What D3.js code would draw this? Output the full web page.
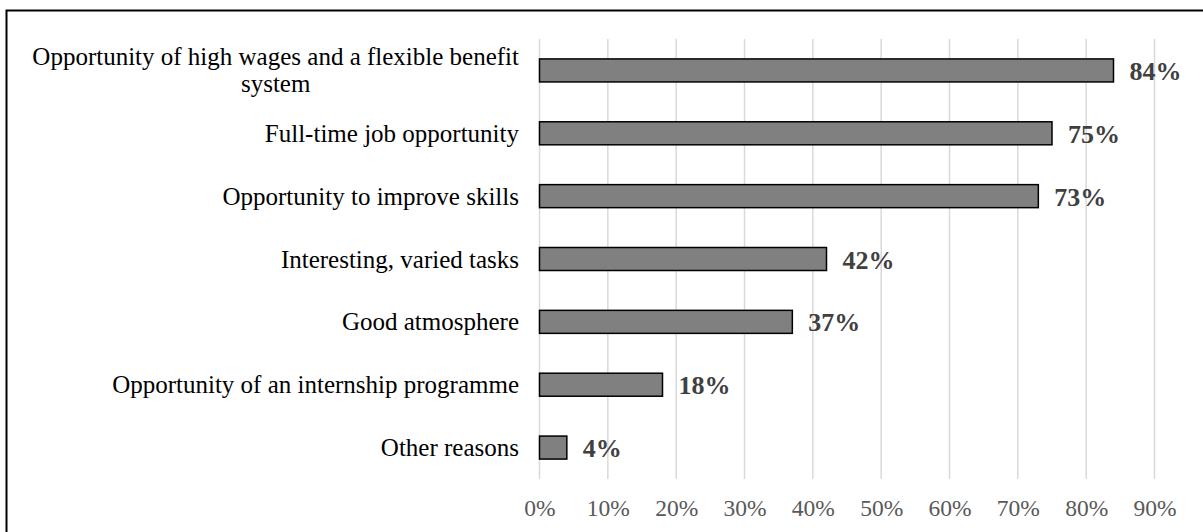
<!DOCTYPE html>
<html>
<head>
<meta charset="utf-8">
<script src="https://cdn.jsdelivr.net/npm/d3@7"></script>
<style>
  body { margin: 0; background: #fff; }
  text { font-family: "Liberation Serif", "Times New Roman", serif; }
</style>
</head>
<body>
<div id="chart"></div>
<script>
// Chart data
const categories = [
  "Opportunity of high wages and a flexible benefit|system",
  "Full-time job opportunity",
  "Opportunity to improve skills",
  "Interesting, varied tasks",
  "Good atmosphere",
  "Opportunity of an internship programme",
  "Other reasons"
];
const values = [0.84, 0.75, 0.73, 0.42, 0.37, 0.18, 0.04];
const tickValues = [0, 0.1, 0.2, 0.3, 0.4, 0.5, 0.6, 0.7, 0.8, 0.9];

const W = 1203, H = 532;
const plot = { left: 539.5, right: 1154.5, top: 39, bottom: 479 };

const svg = d3.select("#chart").append("svg")
  .attr("width", W)
  .attr("height", H);

// outer frame (runs off the bottom/right of the picture)
svg.append("rect")
  .attr("x", 6.5).attr("y", 10.5)
  .attr("width", 1300).attr("height", 600)
  .attr("fill", "none")
  .attr("stroke", "#000")
  .attr("stroke-width", 2);

const x = d3.scaleLinear()
  .domain([0, 0.9])
  .range([plot.left, plot.right]);

const y = d3.scaleBand()
  .domain(categories)
  .range([plot.top, plot.bottom])
  .paddingInner(0.634)
  .paddingOuter(0.317);

// gridlines
svg.append("g")
  .selectAll("line")
  .data(tickValues)
  .join("line")
  .attr("x1", d => x(d)).attr("x2", d => x(d))
  .attr("y1", plot.top).attr("y2", plot.bottom)
  .attr("stroke", "#d9d9d9")
  .attr("stroke-width", 1.5);

// x axis tick labels
const xAxis = d3.axisBottom(x)
  .tickValues(tickValues)
  .tickFormat(d3.format(".0%"))
  .tickSize(0)
  .tickPadding(0);

const gx = svg.append("g")
  .attr("transform", `translate(0,${plot.bottom})`)
  .call(xAxis);
gx.select(".domain").remove();
gx.selectAll("text")
  .attr("dy", null)
  .attr("y", 37)
  .attr("fill", "#595959")
  .style("font-size", "23.5px")
  .style("font-family", "'Liberation Serif', serif");

// bars
svg.append("g")
  .selectAll("rect")
  .data(values)
  .join("rect")
  .attr("x", x(0))
  .attr("y", (d, i) => y(categories[i]))
  .attr("width", d => x(d) - x(0))
  .attr("height", y.bandwidth())
  .attr("fill", "#808080")
  .attr("stroke", "#000")
  .attr("stroke-width", 1.5);

// value labels
svg.append("g")
  .selectAll("text")
  .data(values)
  .join("text")
  .attr("x", d => x(d) + 16)
  .attr("y", (d, i) => y(categories[i]) + y.bandwidth() / 2 + 9.5)
  .attr("fill", "#404040")
  .style("font-size", "26px")
  .style("font-weight", "bold")
  .text(d => d3.format(".0%")(d));

// category labels (right aligned, wrapped lines centred)
const labelRight = 519;
const lineGap = 27;
const cat = svg.append("g");
categories.forEach(c => {
  const lines = c.split("|");
  const cy = y(c) + y.bandwidth() / 2;
  const t = cat.append("text")
    .attr("fill", "#000")
    .style("font-size", "25px");
  lines.forEach((l, k) => {
    t.append("tspan")
      .attr("y", cy + 8.5 + (k - (lines.length - 1) / 2) * lineGap)
      .text(l);
  });
  if (lines.length === 1) {
    t.attr("text-anchor", "end").selectAll("tspan").attr("x", labelRight);
  } else {
    let maxW = 0;
    t.selectAll("tspan").each(function() {
      maxW = Math.max(maxW, this.getComputedTextLength());
    });
    t.attr("text-anchor", "middle").selectAll("tspan").attr("x", labelRight - maxW / 2);
  }
});
</script>
</body>
</html>
